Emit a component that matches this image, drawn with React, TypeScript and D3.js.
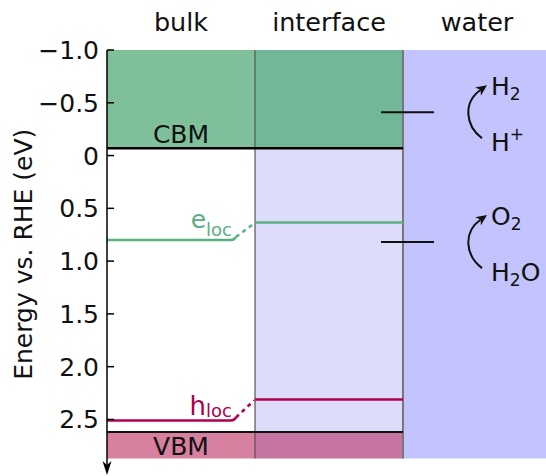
import React from 'react';
import * as d3 from 'd3';

// regions of the band diagram
const regions = ['bulk', 'interface', 'water'];

// band edges (eV vs RHE)
const cbm = -0.07;
const vbm = 2.62;

// localized states: [bulk, interface]
const eLoc = [0.8, 0.635];
const hLoc = [2.51, 2.31];

// water redox levels, product on top, reactant below
const redoxLevels = [-0.41, 0.82];
const redoxTop = [['H', '2', ''], ['O', '2', '']];
const redoxBottom = [['H', '', '+'], ['H', '2', 'O']];

const yTicks = [-1.0, -0.5, 0, 0.5, 1.0, 1.5, 2.0, 2.5];

const App = () => {
  const width = 546;
  const height = 476;
  const margin = { top: 50, left: 107, bottom: 17.5 };

  const x = d3.scaleBand<string>()
    .domain(regions)
    .range([margin.left, margin.left + 148 * 3]);

  const y = d3.scaleLinear()
    .domain([-1.0, 2.87])
    .range([margin.top, height - margin.bottom]);

  const yMin = y.domain()[0];
  const yMax = y.domain()[1];
  const bw = x.bandwidth();
  const xb = x('bulk')!;
  const xi = x('interface')!;
  const xw = x('water')!;

  const font = 'DejaVu Sans, sans-serif';
  const fmt = (d: number) => (d === 0 ? '0' : d3.format('.1f')(d).replace('-', '\u2212'));

  // solid bulk line ending in a little hook, then dotted jump to the interface level
  const locPath = (vals: number[]) => {
    const y0 = y(vals[0]);
    const y1 = y(vals[1]);
    const up = y1 < y0 ? -1 : 1;
    return {
      solid: `M${xb},${y0} L${xi - 24},${y0} Q${xi - 21},${y0} ${xi - 19},${y0 + up * 3}`,
      dashed: `M${xi - 19},${y0 + up * 3} L${xi - 1},${y1 + 1}`,
    };
  };
  const ePath = locPath(eLoc);
  const hPath = locPath(hLoc);

  // chemical formula with optional subscript and trailing part / superscript
  const formula = (parts: string[], key: string, tx: number, ty: number) => (
    <text key={key} x={tx} y={ty} fontSize={25} fill="#111">
      {parts[0]}
      {parts[1] && <tspan fontSize={17} dy={5}>{parts[1]}</tspan>}
      {parts[2] === '+' && <tspan fontSize={17} dy={-11}>+</tspan>}
      {parts[2] && parts[2] !== '+' && <tspan dy={-5}>{parts[2]}</tspan>}
    </text>
  );

  return (
    <svg width={width} height={height} style={{ position: 'absolute', left: 0, top: 0 }}
      fontFamily={font}>

      {/* headers */}
      {regions.map(r => (
        <text key={r} x={x(r)! + bw / 2} y={31} textAnchor="middle" fontSize={25.5} fill="#111">{r}</text>
      ))}

      {/* conduction band */}
      <rect x={xb} y={y(yMin)} width={bw} height={y(cbm) - y(yMin)} fill="#7fc09a" />
      <rect x={xi} y={y(yMin)} width={bw} height={y(cbm) - y(yMin)} fill="#72b898" />
      {/* gap at interface */}
      <rect x={xi} y={y(cbm)} width={bw} height={y(vbm) - y(cbm)} fill="#dddcfa" />
      {/* valence band */}
      <rect x={xb} y={y(vbm)} width={bw} height={y(yMax) - y(vbm)} fill="#d880a0" />
      <rect x={xi} y={y(vbm)} width={bw} height={y(yMax) - y(vbm)} fill="#c573a0" />
      {/* water */}
      <rect x={xw} y={y(yMin)} width={width - xw} height={y(yMax) - y(yMin)} fill="#c3c3fd" />

      {/* separators */}
      <line x1={xi} x2={xi} y1={y(yMin)} y2={y(yMax)} stroke="#555" strokeWidth={1.2} />
      <line x1={xw} x2={xw} y1={y(yMin)} y2={y(yMax)} stroke="#777" strokeWidth={2} />

      {/* band edges */}
      <line x1={xb} x2={xw} y1={y(cbm)} y2={y(cbm)} stroke="#000" strokeWidth={2.5} />
      <line x1={xb} x2={xw} y1={y(vbm)} y2={y(vbm)} stroke="#111" strokeWidth={2} />
      <text x={xb + bw / 2} y={y(cbm) - 5} textAnchor="middle" fontSize={25} fill="#111">CBM</text>
      <text x={xb + bw / 2} y={y(yMax) - 4} textAnchor="middle" fontSize={25} fill="#111">VBM</text>

      {/* localized electron */}
      <path d={ePath.solid} fill="none" stroke="#5aaf80" strokeWidth={2.5} />
      <path d={ePath.dashed} fill="none" stroke="#5aaf80" strokeWidth={2.5} strokeDasharray="4,4" />
      <line x1={xi} x2={xw} y1={y(eLoc[1])} y2={y(eLoc[1])} stroke="#5aaf80" strokeWidth={2.5} />
      <text x={xi - 23} y={y(eLoc[0]) - 12} textAnchor="end" fill="#5aaf80" fontSize={25}>
        e<tspan fontSize={18} dy={8}>loc</tspan>
      </text>

      {/* localized hole */}
      <path d={hPath.solid} fill="none" stroke="#b0004f" strokeWidth={2.5} />
      <path d={hPath.dashed} fill="none" stroke="#b0004f" strokeWidth={2.5} strokeDasharray="4,4" />
      <line x1={xi} x2={xw} y1={y(hLoc[1])} y2={y(hLoc[1])} stroke="#b0004f" strokeWidth={2.5} />
      <text x={xi - 23} y={y(hLoc[0]) - 6} textAnchor="end" fill="#b0004f" fontSize={26}>
        h<tspan fontSize={18} dy={2}>loc</tspan>
      </text>

      {/* redox levels */}
      {redoxLevels.map((v, i) => {
        const yy = y(v);
        const ex = xw + 84;
        const ey = yy - 27;
        const ang = Math.atan2(ey - (yy - 13), ex - (xw + 64));
        const L = 11;
        const W = 5;
        const bx = ex - L * Math.cos(ang);
        const by = ey - L * Math.sin(ang);
        const nx = -Math.sin(ang);
        const ny = Math.cos(ang);
        const nbx = ex - 0.7 * L * Math.cos(ang);
        const nby = ey - 0.7 * L * Math.sin(ang);
        return (
          <g key={i}>
            <line x1={xw - 22} x2={xw + 31} y1={yy} y2={yy} stroke="#111" strokeWidth={2} />
            <path d={`M${xw + 79},${yy + 26} C${xw + 62},${yy + 13} ${xw + 60},${yy - 10} ${nbx},${nby}`}
              fill="none" stroke="#111" strokeWidth={2} />
            <path d={`M${ex},${ey} L${bx + nx * W},${by + ny * W} L${nbx},${nby} L${bx - nx * W},${by - ny * W} Z`}
              fill="#111" />
            {formula(redoxTop[i], `t${i}`, xw + 88, yy - 17)}
            {formula(redoxBottom[i], `b${i}`, xw + 88, yy + 39)}
          </g>
        );
      })}

      {/* y axis */}
      <line x1={margin.left} x2={margin.left} y1={y(yMin)} y2={height - 6} stroke="#000" strokeWidth={1.5} />
      <path d={`M${margin.left},${height - 1} L${margin.left - 4.5},${height - 15} L${margin.left},${height - 11} L${margin.left + 4.5},${height - 15} Z`} fill="#000" />
      {yTicks.map(t => (
        <g key={t}>
          <line x1={margin.left} x2={margin.left + 7} y1={y(t)} y2={y(t)} stroke="#000" strokeWidth={1.5} />
          <text x={99} y={y(t)} dy="0.36em" textAnchor="end" fontSize={25} fill="#111">{fmt(t)}</text>
        </g>
      ))}
      <text transform={`translate(32,${(y(yMin) + y(yMax)) / 2}) rotate(-90)`} textAnchor="middle"
        fontSize={25} fill="#111">Energy vs. RHE (eV)</text>
    </svg>
  );
};

export default App;
